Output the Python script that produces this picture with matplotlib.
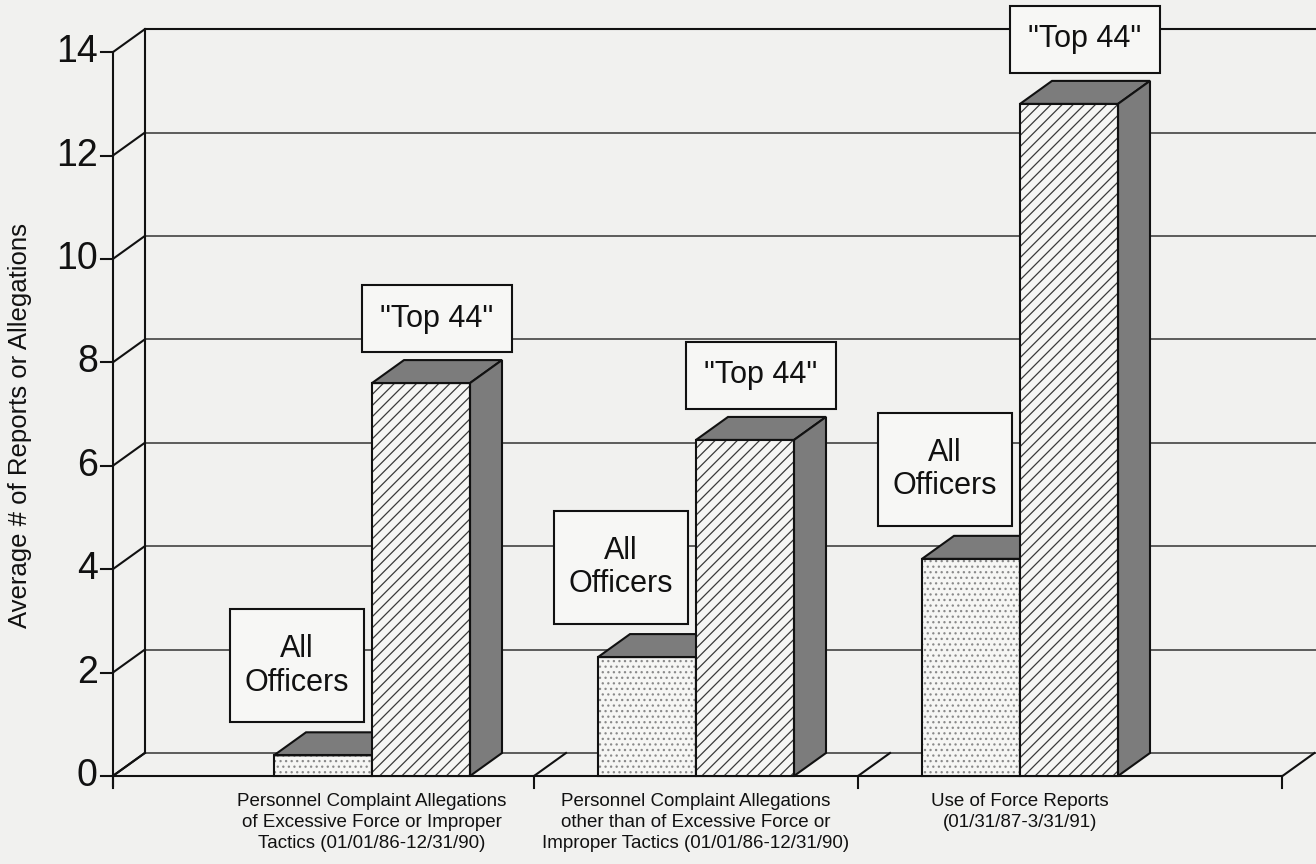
import matplotlib
matplotlib.use("Agg")
import matplotlib.pyplot as plt
from matplotlib.patches import Polygon, Rectangle

# --- data ------------------------------------------------------------- #
categories = [
    "Personnel Complaint Allegations\nof Excessive Force or Improper\nTactics (01/01/86-12/31/90)",
    "Personnel Complaint Allegations\nother than of Excessive Force or\nImproper Tactics (01/01/86-12/31/90)",
    "Use of Force Reports\n(01/31/87-3/31/91)",
]
all_officers = [0.4, 2.3, 4.2]
top_44 = [7.6, 6.5, 13.0]
yticks = [0, 2, 4, 6, 8, 10, 12, 14]
box_all = "All\nOfficers"
box_top = '"Top 44"'
ylabel = "Average # of Reports or Allegations"

# --- geometry (pixel based pseudo 3D) --------------------------------- #
PX_X, PX_Y = 324.0, 51.7          # px per category / per unit
DX, DY = 32 / PX_X, 23 / PX_Y     # depth offset
BAR_W = 98 / PX_X
X_LEFT, X_RIGHT = -0.80, 2.81     # front floor extent
PAPER = "#f1f1ef"
DARK = "#7c7c7c"
INK = "#111111"

plt.rcParams["font.family"] = ["Liberation Sans", "DejaVu Sans"]
plt.rcParams["hatch.linewidth"] = 0.9

fig = plt.figure(figsize=(13.16, 8.64), dpi=100, facecolor=PAPER)
ax = fig.add_axes([0, 0, 1, 1])
ax.set_facecolor(PAPER)
ax.set_xlim(-372 / PX_X, (1316 - 372) / PX_X)
ax.set_ylim(-88 / PX_Y, 776 / PX_Y)
ax.axis("off")

lw = 1.5
# back wall grid lines + left diagonals + ticks
for v in yticks:
    top = v == yticks[-1]
    ax.plot([X_LEFT + DX, X_RIGHT + DX + 1], [v + DY, v + DY], color=INK if top else "#333333",
            lw=lw if top else 1.1, zorder=1, solid_capstyle="butt")
    ax.plot([X_LEFT, X_LEFT + DX], [v, v + DY], color=INK, lw=lw, zorder=1)
    ax.plot([X_LEFT - 12 / PX_X, X_LEFT], [v, v], color=INK, lw=lw, zorder=1)
    ax.text(X_LEFT - 15 / PX_X, v, str(v), ha="right", va="center", fontsize=27, color=INK)

# verticals: front axis and back-left corner
ax.plot([X_LEFT, X_LEFT], [-10 / PX_Y, yticks[-1]], color=INK, lw=lw, zorder=1)
ax.plot([X_LEFT + DX, X_LEFT + DX], [DY, yticks[-1] + DY], color=INK, lw=lw, zorder=1)

# floor: front edge, diagonals, category ticks
ax.plot([X_LEFT, X_RIGHT], [0, 0], color=INK, lw=lw, zorder=1)
for xb in [X_LEFT, 0.5, 1.5, X_RIGHT]:
    ax.plot([xb, xb + DX], [0, DY], color=INK, lw=lw, zorder=1)
    ax.plot([xb, xb], [0, -12 / PX_Y], color=INK, lw=lw, zorder=1)

xs = list(range(len(categories)))


def bars3d(x_left, heights, hatch, hatch_col, z):
    ax.bar(x_left, heights, width=BAR_W, align="edge", color="#f6f6f4", hatch=hatch,
           edgecolor=hatch_col, linewidth=0, zorder=z)
    ax.bar(x_left, heights, width=BAR_W, align="edge", fill=False,
           edgecolor=INK, linewidth=lw, zorder=z + 0.2)
    for x0, h in zip(x_left, heights):
        top = [(x0, h), (x0 + BAR_W, h), (x0 + BAR_W + DX, h + DY), (x0 + DX, h + DY)]
        side = [(x0 + BAR_W, 0), (x0 + BAR_W + DX, DY), (x0 + BAR_W + DX, h + DY), (x0 + BAR_W, h)]
        ax.add_patch(Polygon(top, closed=True, fc=DARK, ec=INK, lw=lw, zorder=z + 0.1))
        ax.add_patch(Polygon(side, closed=True, fc=DARK, ec=INK, lw=lw, zorder=z + 0.1))


bars3d([x - BAR_W for x in xs], all_officers, "...", "#8a8a8a", 3)
bars3d(xs, top_44, "///", "#3a3a3a", 5)

# label boxes
aw, ah = 134 / PX_X, 113 / PX_Y
tw, th = 150 / PX_X, 67 / PX_Y
for x, a, t in zip(xs, all_officers, top_44):
    bx = x - 8 / PX_X - aw
    by = a + DY + 10 / PX_Y
    ax.add_patch(Rectangle((bx, by), aw, ah, fc="#f7f7f5", ec=INK, lw=lw, zorder=8))
    ax.text(bx + aw / 2, by + ah / 2, box_all, ha="center", va="center", fontsize=22,
            linespacing=1.15, color=INK, zorder=9)
    cx = x + (BAR_W + DX) / 2
    by = t + DY + 8 / PX_Y
    ax.add_patch(Rectangle((cx - tw / 2, by), tw, th, fc="#f7f7f5", ec=INK, lw=lw, zorder=8))
    ax.text(cx, by + th / 2, box_top, ha="center", va="center", fontsize=22, color=INK, zorder=9)

# category labels
for x, lab in zip(xs, categories):
    ax.text(x, -17 / PX_Y, lab, ha="center", va="top", fontsize=13.5, linespacing=1.3, color=INK)

ax.text(-352 / PX_X, (776 - 425) / PX_Y, ylabel, rotation=90, ha="center", va="center",
        fontsize=18.5, color=INK)

fig.savefig("out.png", dpi=100, facecolor=PAPER)
